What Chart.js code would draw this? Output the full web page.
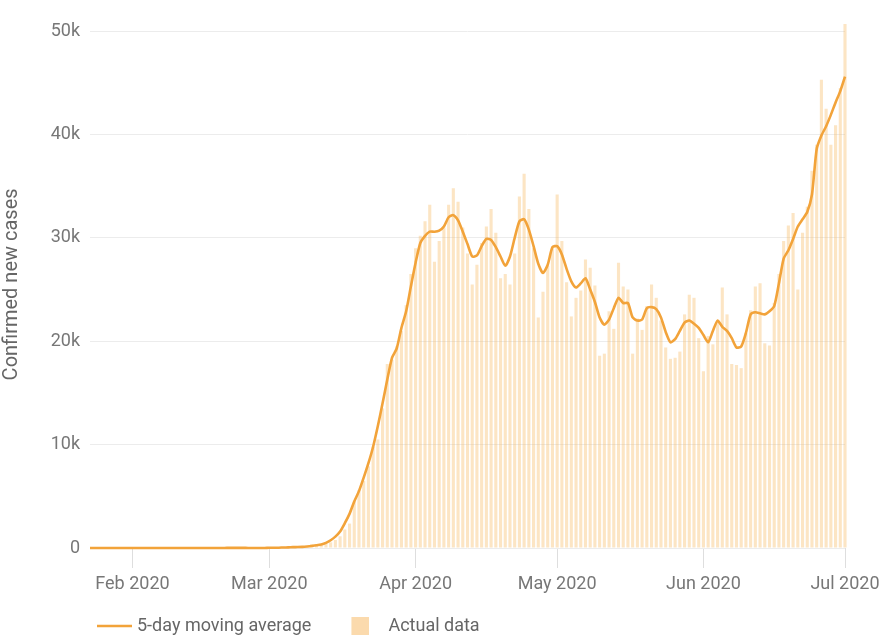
<!DOCTYPE html>
<html>
<head>
<meta charset="utf-8">
<script src="https://cdn.jsdelivr.net/npm/chart.js@4.4.0/dist/chart.umd.min.js"></script>
<style>
html,body{margin:0;padding:0;background:#ffffff;}
canvas{display:block;}
</style>
</head>
<body>
<canvas id="chart" width="881" height="641"></canvas>
<script>
// ---------- DATA ----------
const dates = [
'2020-01-23','2020-01-24','2020-01-25','2020-01-26','2020-01-27','2020-01-28','2020-01-29','2020-01-30','2020-01-31',
'2020-02-01','2020-02-02','2020-02-03','2020-02-04','2020-02-05','2020-02-06','2020-02-07','2020-02-08','2020-02-09','2020-02-10',
'2020-02-11','2020-02-12','2020-02-13','2020-02-14','2020-02-15','2020-02-16','2020-02-17','2020-02-18','2020-02-19','2020-02-20',
'2020-02-21','2020-02-22','2020-02-23','2020-02-24','2020-02-25','2020-02-26','2020-02-27','2020-02-28','2020-02-29',
'2020-03-01','2020-03-02','2020-03-03','2020-03-04','2020-03-05','2020-03-06','2020-03-07','2020-03-08','2020-03-09','2020-03-10',
'2020-03-11','2020-03-12','2020-03-13','2020-03-14','2020-03-15','2020-03-16','2020-03-17','2020-03-18','2020-03-19','2020-03-20',
'2020-03-21','2020-03-22','2020-03-23','2020-03-24','2020-03-25','2020-03-26','2020-03-27','2020-03-28','2020-03-29','2020-03-30','2020-03-31',
'2020-04-01','2020-04-02','2020-04-03','2020-04-04','2020-04-05','2020-04-06','2020-04-07','2020-04-08','2020-04-09','2020-04-10',
'2020-04-11','2020-04-12','2020-04-13','2020-04-14','2020-04-15','2020-04-16','2020-04-17','2020-04-18','2020-04-19','2020-04-20',
'2020-04-21','2020-04-22','2020-04-23','2020-04-24','2020-04-25','2020-04-26','2020-04-27','2020-04-28','2020-04-29','2020-04-30',
'2020-05-01','2020-05-02','2020-05-03','2020-05-04','2020-05-05','2020-05-06','2020-05-07','2020-05-08','2020-05-09','2020-05-10',
'2020-05-11','2020-05-12','2020-05-13','2020-05-14','2020-05-15','2020-05-16','2020-05-17','2020-05-18','2020-05-19','2020-05-20',
'2020-05-21','2020-05-22','2020-05-23','2020-05-24','2020-05-25','2020-05-26','2020-05-27','2020-05-28','2020-05-29','2020-05-30','2020-05-31',
'2020-06-01','2020-06-02','2020-06-03','2020-06-04','2020-06-05','2020-06-06','2020-06-07','2020-06-08','2020-06-09','2020-06-10',
'2020-06-11','2020-06-12','2020-06-13','2020-06-14','2020-06-15','2020-06-16','2020-06-17','2020-06-18','2020-06-19','2020-06-20',
'2020-06-21','2020-06-22','2020-06-23','2020-06-24','2020-06-25','2020-06-26','2020-06-27','2020-06-28','2020-06-29','2020-06-30',
'2020-07-01'
];

const dailyCases = [
0,1,0,3,0,0,0,1,1,
1,1,3,0,1,0,0,0,0,0, 1,0,1,0,0,0,0,0,0,0, 2,0,0,36,0,0,1,2,8,
6,23,20,31,68,45,140,116,65,376, 322,382,516,548,772,1133,1789,2362,4500,5600, 6500,7900,9800,10500,13500,17800,18200,19500,21000,23500,26500,
29000,30200,31600,33200,27700,29700,31000,33200,34800,33500, 31000,28500,25500,27400,29500,31100,32800,30500,26100,26500, 25500,28500,34000,36200,32800,29000,22300,24800,27300,29000,
34200,29700,25700,22400,24200,24900,27900,27100,25400,18600, 18800,22900,21200,27600,25300,25000,18800,22200,21100,23400, 25500,24200,22000,19400,18300,18400,19000,22600,24500,24200,20300,
17100,20500,19700,21800,25200,22600,17800,17700,17400,20800, 23000,25300,25600,19800,19600,23700,26500,29700,31200,32400, 25000,30500,33000,36500,39000,45300,42500,39000,40900,44500,
50700
];

const movingAverage = [
0,0,1,1,1,1,1,0,0,
1,1,1,1,1,1,0,0,0,0, 0,0,0,0,0,0,0,0,0,0, 8,8,8,8,8,1,2,4,7,
20,30,30,50,60,80,90,110,150,200, 260,340,500,750,1100,1600,2400,3300,4500,5500, 6800,8200,9800,11800,14000,16300,18400,19300,21300,22900,25300,
27600,29500,30200,30600,30600,30700,31100,32000,32200,31700, 30600,29400,28200,28300,29200,29900,29800,29100,28200,27300, 28200,30000,31600,31800,30800,29200,27500,26600,27400,29100,
29200,28400,27000,25800,25200,25600,26100,25000,23800,22300, 21600,22100,23200,24200,23700,23700,22300,22000,22100,23200, 23300,23100,22300,20900,19900,20200,21000,21800,22000,21700,21300,
20600,19900,21000,22000,21400,21000,20300,19400,19500,20800, 22600,22800,22700,22600,22900,23400,25600,28000,28800,29900, 31100,31800,32500,34200,38600,39900,40800,41900,43100,44200,
45600
];

const monthTickDates  = ['2020-02-01','2020-03-01','2020-04-01','2020-05-01','2020-06-01','2020-07-01'];
const monthTickLabels = ['Feb 2020','Mar 2020','Apr 2020','May 2020','Jun 2020','Jul 2020'];
const yTickValues = [0, 10000, 20000, 30000, 40000, 50000];
const yTickLabels = ['0', '10k', '20k', '30k', '40k', '50k'];

const seriesNames = ['5-day moving average', 'Actual data'];
const yAxisTitle = 'Confirmed new cases';

// ---------- STYLE ----------
const LINE_COLOR = '#f2a33a';
const BAR_COLOR = 'rgba(248,182,92,0.36)';
const LEGEND_BOX_COLOR = 'rgba(248,182,92,0.5)';
const FONT = 'Roboto';

function makeLineSymbol() {
  const c = document.createElement('canvas');
  c.width = 68; c.height = 4;
  const g = c.getContext('2d');
  g.strokeStyle = LINE_COLOR; g.lineWidth = 2.6;
  g.beginPath(); g.moveTo(33, 2); g.lineTo(68, 2); g.stroke();
  return c;
}
function makeBoxSymbol() {
  const c = document.createElement('canvas');
  c.width = 40; c.height = 18;
  const g = c.getContext('2d');
  g.fillStyle = LEGEND_BOX_COLOR;
  g.fillRect(22, 0, 18, 18);
  return c;
}
const lineSymbol = makeLineSymbol();
const boxSymbol = makeBoxSymbol();

const legendShift = {
  id: 'legendShift',
  afterLayout(chart) {
    if (chart.legend) { chart.legend.left += 60; chart.legend.top += 4; }
  }
};

new Chart(document.getElementById('chart'), {
  type: 'bar',
  data: {
    labels: dates,
    datasets: [
      {
        type: 'line',
        label: seriesNames[0],
        data: movingAverage,
        borderColor: LINE_COLOR,
        backgroundColor: LINE_COLOR,
        borderWidth: 2.6,
        pointRadius: 0,
        tension: 0.22,
        fill: false,
        clip: false
      },
      {
        type: 'bar',
        label: seriesNames[1],
        data: dailyCases,
        backgroundColor: BAR_COLOR,
        borderWidth: 0,
        barPercentage: 0.66,
        categoryPercentage: 1,
        clip: false
      }
    ]
  },
  options: {
    responsive: false,
    animation: false,
    devicePixelRatio: 1,
    layout: { padding: { top: 19, left: 0, right: 0, bottom: 0 } },
    plugins: {
      tooltip: { enabled: false },
      legend: {
        position: 'bottom',
        align: 'start',
        labels: {
          usePointStyle: true,
          pointStyleWidth: 60,
          padding: 8,
          color: '#666666',
          font: { family: FONT, size: 18 },
          generateLabels: () => [
            { text: seriesNames[0], pointStyle: lineSymbol, fillStyle: 'rgba(0,0,0,0)', strokeStyle: 'rgba(0,0,0,0)', lineWidth: 0, hidden: false, datasetIndex: 0, fontColor: '#666666' },
            { text: seriesNames[1], pointStyle: boxSymbol, fillStyle: 'rgba(0,0,0,0)', strokeStyle: 'rgba(0,0,0,0)', lineWidth: 0, hidden: false, datasetIndex: 1, fontColor: '#666666' }
          ]
        }
      }
    },
    scales: {
      x: {
        type: 'category',
        offset: false,
        border: { display: false },
        grid: { display: true, drawOnChartArea: false, drawTicks: true, tickLength: 20, color: '#dedede', offset: false },
        ticks: {
          autoSkip: false,
          maxRotation: 0,
          padding: 6,
          color: '#777777',
          font: { family: FONT, size: 18 },
          callback: function (value) {
            const k = monthTickDates.indexOf(dates[value]);
            return k >= 0 ? monthTickLabels[k] : '';
          }
        },
        afterBuildTicks: (scale) => {
          scale.ticks = scale.ticks.filter(t => monthTickDates.includes(dates[t.value]));
        },
        afterFit: (scale) => {
          scale.height = 57;
          scale.paddingLeft = 0;
          scale.paddingRight = 36;
        }
      },
      y: {
        min: 0,
        max: 51000,
        border: { display: false },
        grid: { color: '#ececec', drawTicks: false, lineWidth: 1 },
        ticks: {
          padding: 10,
          color: '#777777',
          font: { family: FONT, size: 18 },
          callback: (v) => {
            const k = yTickValues.indexOf(v);
            return k >= 0 ? yTickLabels[k] : '';
          }
        },
        afterBuildTicks: (scale) => {
          scale.ticks = yTickValues.map(v => ({ value: v }));
        },
        title: {
          display: true,
          text: yAxisTitle,
          color: '#666666',
          font: { family: FONT, size: 20 },
          padding: { top: 0, bottom: 0 }
        },
        afterFit: (scale) => { scale.width = 90; }
      }
    }
  },
  plugins: [legendShift]
});
</script>
</body>
</html>
